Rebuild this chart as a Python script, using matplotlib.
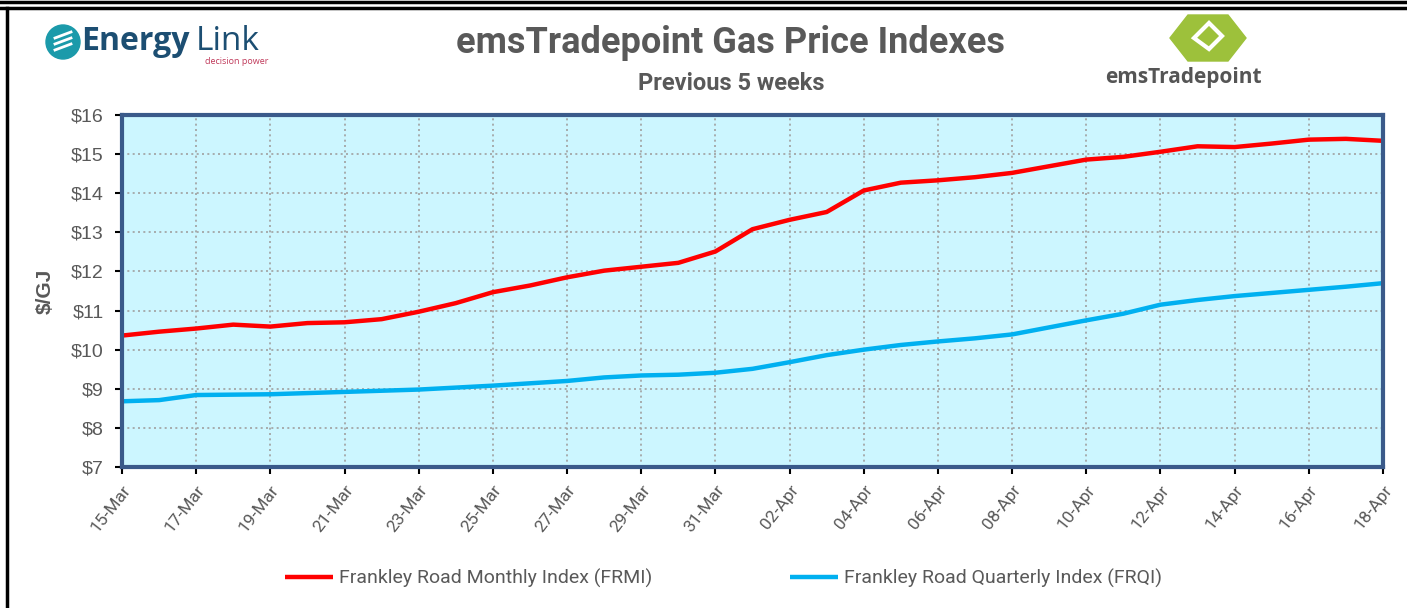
import matplotlib.pyplot as plt
import matplotlib.patches as mpatches
from matplotlib.lines import Line2D
import pandas as pd
import numpy as np

# daily index values, 15-Mar to 18-Apr
dates = pd.date_range('2024-03-15', '2024-04-18', freq='D')
frmi = [10.36, 10.46, 10.54, 10.64, 10.59, 10.68, 10.70, 10.78, 10.97, 11.19,
        11.47, 11.64, 11.85, 12.02, 12.12, 12.22, 12.51, 13.08, 13.32, 13.52,
        14.07, 14.27, 14.33, 14.41, 14.52, 14.69, 14.86, 14.93, 15.06, 15.20,
        15.18, 15.27, 15.37, 15.39, 15.34]
frqi = [8.68, 8.71, 8.84, 8.85, 8.86, 8.89, 8.92, 8.95, 8.98, 9.03,
        9.08, 9.14, 9.20, 9.29, 9.34, 9.36, 9.41, 9.51, 9.68, 9.86,
        10.00, 10.12, 10.21, 10.29, 10.39, 10.57, 10.75, 10.92, 11.15, 11.27,
        11.37, 11.45, 11.53, 11.61, 11.70]
y_ticks = [7, 8, 9, 10, 11, 12, 13, 14, 15, 16]

narrow = ['Roboto', 'DejaVu Sans']
grey = '#595959'

fig = plt.figure(figsize=(14.07, 6.08), dpi=100)
ax = fig.add_axes([122/1407, 1 - 467/608, (1383-122)/1407, (467-115)/608])
ax.set_facecolor('#ccf6ff')

x = np.arange(len(dates))
ax.plot(x, frmi, color='#ff0000', lw=3.2, solid_capstyle='butt',
        label='Frankley Road Monthly Index (FRMI)')
ax.plot(x, frqi, color='#00b0f0', lw=3.2, solid_capstyle='butt',
        label='Frankley Road Quarterly Index (FRQI)')

ax.set_xlim(0, len(dates) - 1)
ax.set_ylim(7, 16)
ax.set_yticks(y_ticks)
ax.set_yticklabels(['$%d' % v for v in y_ticks], fontsize=14, color=grey,
                   family=['Liberation Sans', 'DejaVu Sans'])
ax.set_xticks(x[::2])
ax.set_xticklabels([d.strftime('%d-%b') for d in dates[::2]], rotation=52,
                   ha='right', va='top', rotation_mode='anchor', fontsize=12.5,
                   color=grey, family=narrow)
ax.tick_params(axis='both', length=5, width=1.5, color='black', pad=8)
ax.tick_params(axis='x', pad=6)
ax.grid(True, color='#a0a0a0', ls=(0, (1.2, 2)), lw=1.2)
for s in ax.spines.values():
    s.set_color('#3a5a8a')
    s.set_linewidth(3)
ax.set_ylabel('$/GJ', fontsize=15, fontweight='bold', color=grey,
              family=['Liberation Sans', 'DejaVu Sans'], labelpad=12)

# titles
fig.text(731/1407, 1 - 43/608, 'emsTradepoint Gas Price Indexes', ha='center',
         va='center', fontsize=26, fontweight='bold', color=grey, family=narrow)
fig.text(731/1407, 1 - 84/608, 'Previous 5 weeks', ha='center', va='center',
         fontsize=17, fontweight='bold', color=grey, family=narrow)

# frame lines
fig.add_artist(Line2D([0, 1], [1 - 1.5/608, 1 - 1.5/608], color='black', lw=2.5))
fig.add_artist(Line2D([0, 1], [1 - 8/608, 1 - 8/608], color='black', lw=2.5))
fig.add_artist(Line2D([7/1407, 7/1407], [0, 1 - 8/608], color='black', lw=2.5))

# Energy Link logo
fig.add_artist(mpatches.Ellipse((63/1407, 1 - 42/608), 34/1407, 34/608,
                                color='#1b9aaa', transform=fig.transFigure))
for dy in (-6, 0, 6):
    fig.add_artist(Line2D([55/1407, 71/1407], [1 - (44 + dy)/608, 1 - (38 + dy)/608],
                          color='white', lw=2))
fig.text(81/1407, 1 - 42/608, 'Energy', ha='left', va='center', fontsize=23,
         fontweight='bold', color='#1c4e72', family=['Open Sans', 'DejaVu Sans'])
fig.text(196/1407, 1 - 42/608, 'Link', ha='left', va='center', fontsize=24,
         color='#1c4e72', family=['Open Sans', 'DejaVu Sans'])
fig.text(268/1407, 1 - 61/608, 'decision power', ha='right', va='center',
         fontsize=6.5, color='#c0395a', family=['Open Sans', 'DejaVu Sans'])

# emsTradepoint logo
cx, cy = 1208, 38
hexa = [(cx - 38, cy), (cx - 20, cy - 23), (cx + 20, cy - 23), (cx + 38, cy),
        (cx + 20, cy + 23), (cx - 20, cy + 23)]
fig.add_artist(mpatches.Polygon([(px/1407, 1 - py/608) for px, py in hexa],
                                closed=True, color='#9dc13b', transform=fig.transFigure))
inner = [(cx - 14, cy), (cx + 1, cy - 15), (cx + 14, cy - 2), (cx + 1, cy + 11)]
fig.add_artist(mpatches.Polygon([(px/1407, 1 - py/608) for px, py in inner],
                                closed=True, fill=False, ec='white', lw=3,
                                transform=fig.transFigure))
fig.text(1183/1407, 1 - 78/608, 'emsTradepoint', ha='center', va='center',
         fontsize=15, fontweight='bold', color='#555555', family=['Open Sans', 'DejaVu Sans'])

# legend
h, l = ax.get_legend_handles_labels()
fig.legend([h[0]], [l[0]], loc='center left', bbox_to_anchor=(267/1407, 1 - 578/608),
           frameon=False, handlelength=2.5, handletextpad=0.3,
           prop={'family': narrow, 'size': 14}, labelcolor=grey)
fig.legend([h[1]], [l[1]], loc='center left', bbox_to_anchor=(772/1407, 1 - 578/608),
           frameon=False, handlelength=2.5, handletextpad=0.3,
           prop={'family': narrow, 'size': 14}, labelcolor=grey)

fig.savefig('out.png', dpi=100)
